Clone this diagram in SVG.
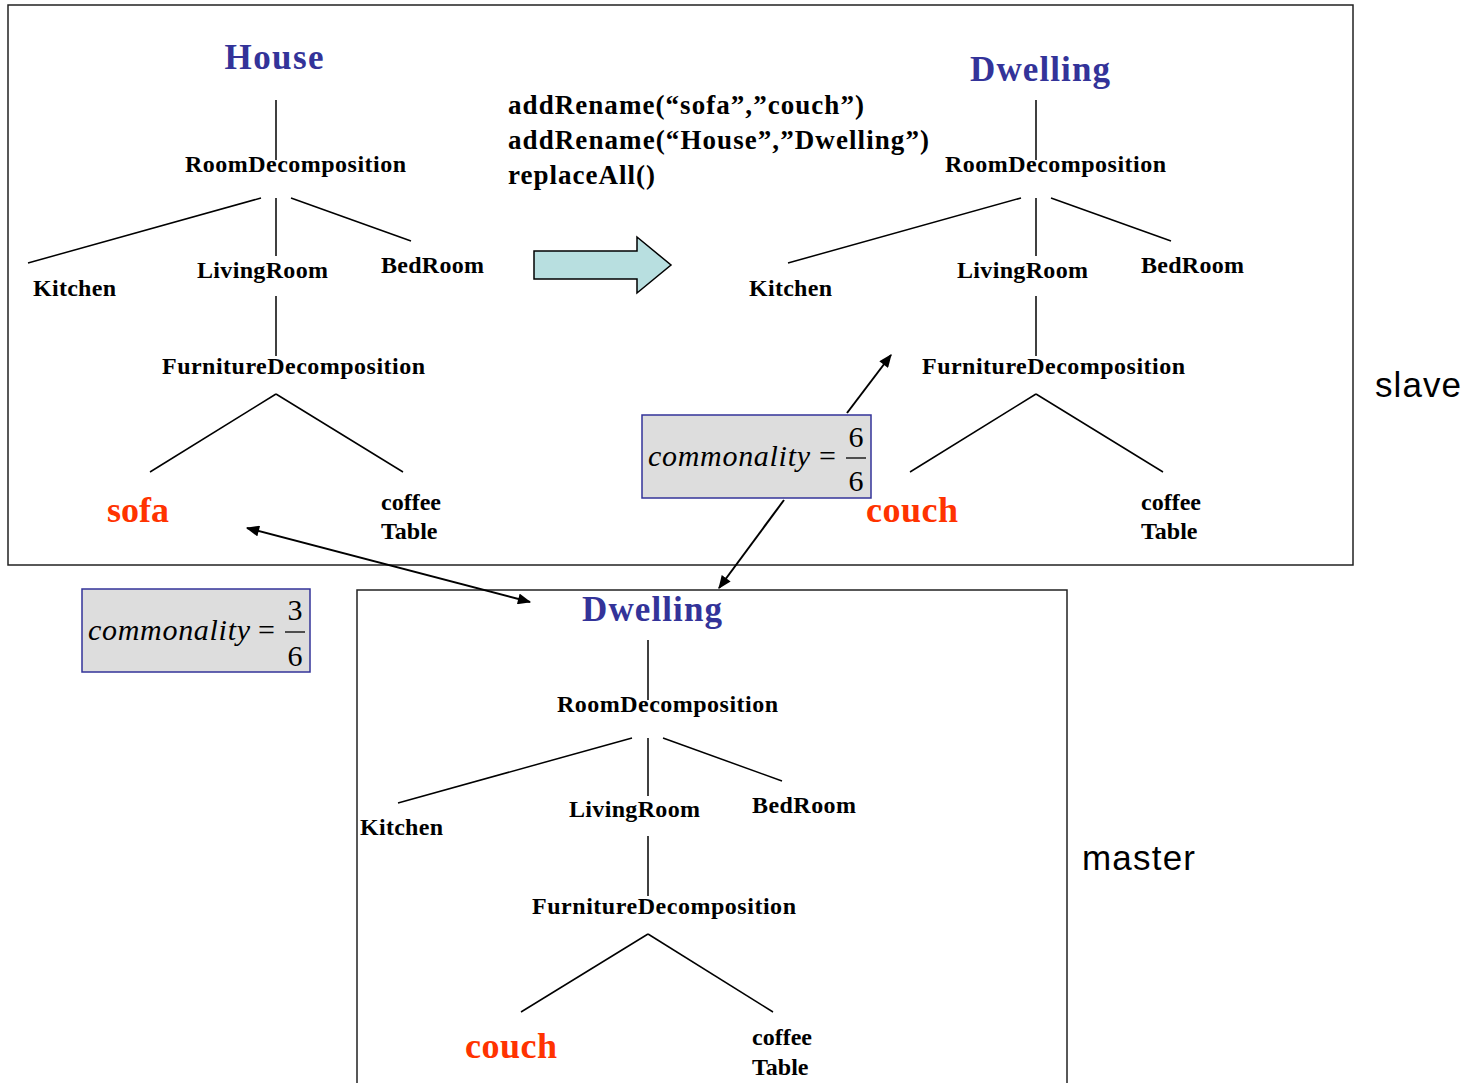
<svg xmlns="http://www.w3.org/2000/svg" width="1467" height="1083" viewBox="0 0 1467 1083">
  <style>
    .frame { fill: none; stroke: #222; stroke-width: 1.5; }
    .edge { stroke: #000; stroke-width: 1.5; fill: none; }
    .lbl { font-family: "Liberation Serif", "Times New Roman", serif; font-weight: bold; font-size: 24px; fill: #000; }
    .root { font-family: "Liberation Serif", "Times New Roman", serif; font-weight: bold; font-size: 35px; fill: #333399; }
    .leaf { font-family: "Liberation Serif", "Times New Roman", serif; font-weight: bold; font-size: 36px; fill: #ff3300; }
    .code { font-family: "Liberation Serif", "Times New Roman", serif; font-weight: bold; font-size: 27px; fill: #000; }
    .side { font-family: "Liberation Sans", Arial, sans-serif; font-size: 35px; fill: #000; }
    .cbox { fill: #dddddd; stroke: #333399; stroke-width: 1.5; }
    .math { font-family: "Liberation Serif", "Times New Roman", serif; font-size: 30px; fill: #000; }
    .mi { font-style: italic; }
    .link { stroke: #000; stroke-width: 2; fill: none; }
  </style>
  <defs>
    <marker id="tip" viewBox="0 0 12 10" refX="11" refY="5" markerWidth="14" markerHeight="11" markerUnits="userSpaceOnUse" orient="auto-start-reverse">
      <path d="M0,0 L12,5 L0,10 z" fill="#000"/>
    </marker>
  </defs>

  <rect x="0" y="0" width="1467" height="1083" fill="#fff"/>

  <!-- frames -->
  <rect id="slave-frame" class="frame" x="8" y="5" width="1345" height="560"/>
  <rect id="master-frame" class="frame" x="357" y="590" width="710" height="500"/>
  <text id="slave-label" class="side" x="1375" y="397" textLength="86">slave</text>
  <text id="master-label" class="side" x="1082" y="870" textLength="113">master</text>

  <!-- tree edges -->
  <g id="connectors">
    <!-- House tree -->
    <line class="edge" x1="276" y1="100" x2="276" y2="160"/>
    <line class="edge" x1="261" y1="198" x2="28" y2="263"/>
    <line class="edge" x1="276" y1="198" x2="276" y2="256"/>
    <line class="edge" x1="291" y1="198" x2="411" y2="241"/>
    <line class="edge" x1="276" y1="296" x2="276" y2="356"/>
    <line class="edge" x1="276" y1="394" x2="150" y2="472"/>
    <line class="edge" x1="276" y1="394" x2="403" y2="472"/>
    <!-- Dwelling (slave) tree -->
    <line class="edge" x1="1036" y1="100" x2="1036" y2="160"/>
    <line class="edge" x1="1021" y1="198" x2="788" y2="263"/>
    <line class="edge" x1="1036" y1="198" x2="1036" y2="256"/>
    <line class="edge" x1="1051" y1="198" x2="1171" y2="241"/>
    <line class="edge" x1="1036" y1="296" x2="1036" y2="356"/>
    <line class="edge" x1="1036" y1="394" x2="910" y2="472"/>
    <line class="edge" x1="1036" y1="394" x2="1163" y2="472"/>
    <!-- Dwelling (master) tree -->
    <line class="edge" x1="648" y1="640" x2="648" y2="700"/>
    <line class="edge" x1="632" y1="738" x2="398" y2="803"/>
    <line class="edge" x1="648" y1="738" x2="648" y2="796"/>
    <line class="edge" x1="663" y1="738" x2="782" y2="781"/>
    <line class="edge" x1="648" y1="836" x2="648" y2="896"/>
    <line class="edge" x1="648" y1="934" x2="521" y2="1012"/>
    <line class="edge" x1="648" y1="934" x2="773" y2="1012"/>
    <!-- comparison links -->
    <line class="link" x1="847" y1="413" x2="891" y2="355" marker-end="url(#tip)"/>
    <line class="link" x1="784" y1="500" x2="719" y2="588" marker-end="url(#tip)"/>
    <line class="link" x1="247" y1="528" x2="530" y2="602" marker-start="url(#tip)" marker-end="url(#tip)"/>
  </g>

  <!-- House tree nodes -->
  <g id="house"><text class="root" x="274" y="69" text-anchor="middle" textLength="99">House</text></g>
  <g id="house-rooms"><text class="lbl" x="185" y="172" textLength="221">RoomDecomposition</text></g>
  <g id="house-kitchen"><text class="lbl" x="33" y="296" textLength="83">Kitchen</text></g>
  <g id="house-living"><text class="lbl" x="197" y="278" textLength="131">LivingRoom</text></g>
  <g id="house-bed"><text class="lbl" x="381" y="273" textLength="103">BedRoom</text></g>
  <g id="house-furniture"><text class="lbl" x="162" y="374" textLength="263">FurnitureDecomposition</text></g>
  <g id="house-sofa"><text class="leaf" x="107" y="522">sofa</text></g>
  <g id="house-table">
    <text class="lbl" x="381" y="510">coffee</text>
    <text class="lbl" x="381" y="539">Table</text>
  </g>

  <!-- rename script -->
  <g id="script">
    <text class="code" x="508" y="114" textLength="356">addRename(“sofa”,”couch”)</text>
    <text class="code" x="508" y="149" textLength="421">addRename(“House”,”Dwelling”)</text>
    <text class="code" x="508" y="184" textLength="147">replaceAll()</text>
  </g>

  <!-- transform arrow -->
  <g id="transform-arrow">
    <path d="M534,251 L637,251 L637,237 L671,265 L637,293 L637,279 L534,279 Z" fill="#b8dfe0" stroke="#000" stroke-width="1.5"/>
  </g>

  <!-- Dwelling (slave) nodes -->
  <g id="slave-dwelling"><text class="root" x="1040" y="81" text-anchor="middle" textLength="140">Dwelling</text></g>
  <g id="slave-rooms"><text class="lbl" x="945" y="172" textLength="221">RoomDecomposition</text></g>
  <g id="slave-kitchen"><text class="lbl" x="749" y="296" textLength="83">Kitchen</text></g>
  <g id="slave-living"><text class="lbl" x="957" y="278" textLength="131">LivingRoom</text></g>
  <g id="slave-bed"><text class="lbl" x="1141" y="273" textLength="103">BedRoom</text></g>
  <g id="slave-furniture"><text class="lbl" x="922" y="374" textLength="263">FurnitureDecomposition</text></g>
  <g id="slave-couch"><text class="leaf" x="866" y="522" textLength="92">couch</text></g>
  <g id="slave-table">
    <text class="lbl" x="1141" y="510">coffee</text>
    <text class="lbl" x="1141" y="539">Table</text>
  </g>

  <!-- Dwelling (master) nodes -->
  <g id="master-dwelling"><text class="root" x="652" y="621" text-anchor="middle" textLength="140">Dwelling</text></g>
  <g id="master-rooms"><text class="lbl" x="557" y="712" textLength="221">RoomDecomposition</text></g>
  <g id="master-kitchen"><text class="lbl" x="360" y="835" textLength="83">Kitchen</text></g>
  <g id="master-living"><text class="lbl" x="569" y="817" textLength="131">LivingRoom</text></g>
  <g id="master-bed"><text class="lbl" x="752" y="813" textLength="104">BedRoom</text></g>
  <g id="master-furniture"><text class="lbl" x="532" y="914" textLength="264">FurnitureDecomposition</text></g>
  <g id="master-couch"><text class="leaf" x="465" y="1058" textLength="92">couch</text></g>
  <g id="master-table">
    <text class="lbl" x="752" y="1045">coffee</text>
    <text class="lbl" x="752" y="1075">Table</text>
  </g>

  <!-- commonality scores -->
  <g id="commonality-slave">
    <rect class="cbox" x="642" y="415" width="229" height="83"/>
    <text class="math mi" x="648" y="466" textLength="162">commonality</text>
    <text class="math" x="819" y="466">=</text>
    <text class="math" x="856" y="447" text-anchor="middle">6</text>
    <line x1="846" y1="458" x2="866" y2="458" stroke="#000" stroke-width="1.3"/>
    <text class="math" x="856" y="491" text-anchor="middle">6</text>
  </g>
  <g id="commonality-master">
    <rect class="cbox" x="82" y="589" width="228" height="83"/>
    <text class="math mi" x="88" y="640" textLength="162">commonality</text>
    <text class="math" x="258" y="640">=</text>
    <text class="math" x="295" y="620" text-anchor="middle">3</text>
    <line x1="285" y1="632" x2="305" y2="632" stroke="#000" stroke-width="1.3"/>
    <text class="math" x="295" y="666" text-anchor="middle">6</text>
  </g>
</svg>
